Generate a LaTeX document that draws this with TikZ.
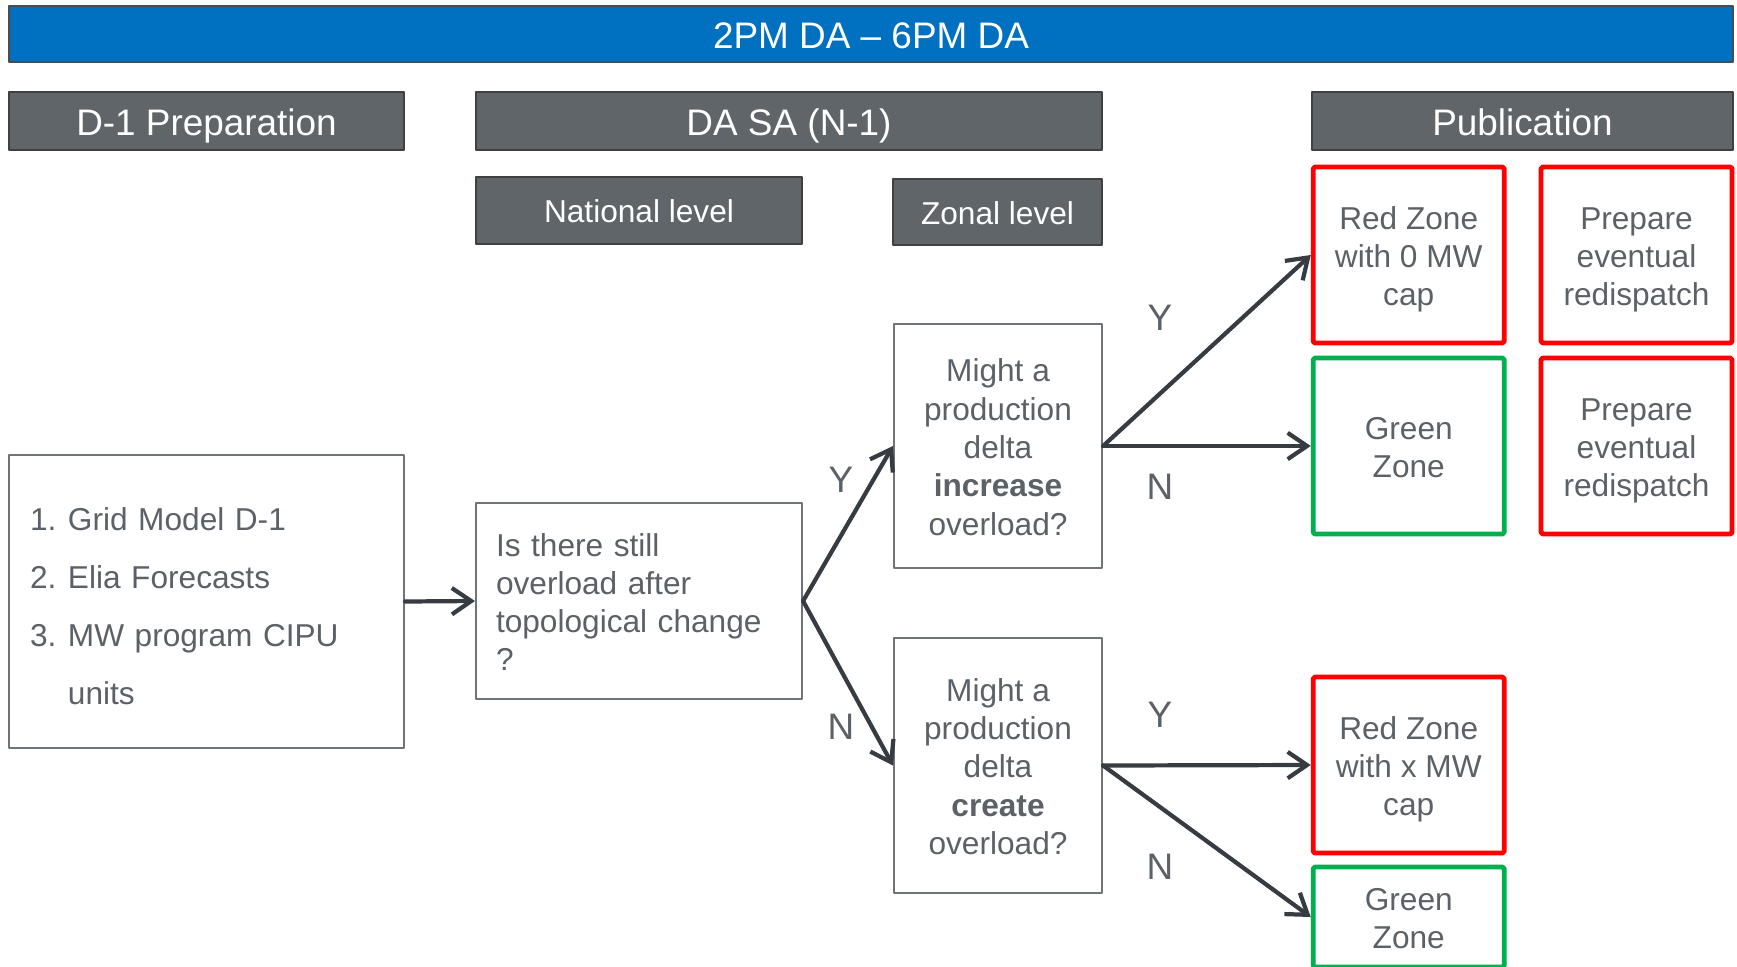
\documentclass[tikz,border=0pt]{standalone}
\usepackage{fontspec}
\setmainfont{Liberation Sans}
\usetikzlibrary{arrows.meta}
\definecolor{titleblue}{HTML}{0070C0}
\definecolor{headgray}{HTML}{5F6569}
\definecolor{textgray}{HTML}{5B6166}
\definecolor{boxgray}{HTML}{6E7478}
\definecolor{arrowgray}{HTML}{363C42}
\definecolor{zonered}{HTML}{FF0000}
\definecolor{zonegreen}{HTML}{00B050}
\newcommand{\topline}{\rule{0pt}{1em}}
\begin{document}
\begin{tikzpicture}[line cap=round,line join=round,>={Straight Barb[length=5.5pt,width=7.5pt]},x=0.1mm,y=-0.1mm,
    padded/.style={execute at begin node={\topline},execute at end node={\rule[-0.212em]{0pt}{0pt}}},
    header/.style={padded,draw=black!75,line width=0.5pt,fill=headgray,text=white,font=\fontsize{10.5}{12.6}\selectfont,inner sep=0pt},
    stepbox/.style={padded,draw=boxgray,line width=0.6pt,text=textgray,font=\fontsize{9}{10.9}\selectfont,align=center,inner sep=0pt},
    zone/.style={padded,line width=1.4pt,rounded corners=0.5pt,text=textgray,font=\fontsize{9}{10.9}\selectfont,align=center,inner sep=0pt,minimum width=19.1mm},
    flow/.style={->,draw=arrowgray,line width=1.2pt},
    answer/.style={text=textgray,font=\fontsize{10.5}{12.6}\selectfont}]
  \useasboundingbox (0,0) rectangle (1737,966);
  \node[header,fill=titleblue,draw=black!70,minimum width=172.4mm,minimum height=5.65mm] (title) at (871,34) {2PM DA \textendash{} 6PM DA};
  \node[header,minimum width=39.5mm,minimum height=5.8mm] (prep) at (206.5,121) {D-1 Preparation};
  \node[header,minimum width=62.6mm,minimum height=5.8mm] (dasa) at (789,121) {DA SA (N-1)};
  \node[header,minimum width=42.1mm,minimum height=5.8mm] (pub) at (1522.5,121) {Publication};
  \node[header,font=\fontsize{9}{10.9}\selectfont,minimum width=32.6mm,minimum height=6.7mm] (national) at (639,210.5) {National level};
  \node[header,font=\fontsize{9}{10.9}\selectfont,minimum width=20.9mm,minimum height=6.6mm] (zonal) at (997.5,212) {Zonal level};
  \node[stepbox,align=left,font=\fontsize{9}{16.5}\selectfont,text width=35.3mm,inner xsep=2.1mm,minimum height=29.3mm,
        execute at begin node={\rule{0pt}{11pt}}] (inputs) at (206.5,601.5)
    {\makebox[10.8pt][l]{1.}Grid Model D-1\\\makebox[10.8pt][l]{2.}Elia Forecasts\\\makebox[10.8pt][l]{3.}MW program CIPU\\\makebox[10.8pt][l]{}units};
  \node[stepbox,align=left,text width=28.6mm,inner xsep=2mm,minimum height=19.6mm] (question) at (639,601)
    {Is there still\\overload after\\topological change\\?};
  \node[stepbox,minimum width=20.8mm,minimum height=24.4mm] (increase) at (998,446)
    {\topline Might a\\production\\delta\\\textbf{increase}\\overload?};
  \node[stepbox,minimum width=20.8mm,minimum height=25.5mm] (create) at (998,765.5)
    {\topline Might a\\production\\delta\\\textbf{create}\\overload?};
  \node[zone,draw=zonered,minimum height=17.6mm] (redzero) at (1408.7,255) {\topline Red Zone\\with 0 MW\\cap};
  \node[zone,draw=zonered,minimum height=17.6mm] (prepone) at (1636.5,255) {\topline Prepare\\eventual\\redispatch};
  \node[zone,draw=zonegreen,minimum height=17.6mm] (greenone) at (1408.7,446) {\topline Green\\Zone};
  \node[zone,draw=zonered,minimum height=17.6mm] (preptwo) at (1636.5,446) {\topline Prepare\\eventual\\redispatch};
  \node[zone,draw=zonered,minimum height=17.6mm] (redx) at (1408.7,765) {\topline Red Zone\\with x MW\\cap};
  \node[zone,draw=zonegreen,minimum height=10mm] (greentwo) at (1408.7,917) {\topline Green\\Zone};
  \draw[flow] (inputs.east) -- (question.west);
  \draw[flow] (question.east) -- (increase.west);
  \draw[flow] (question.east) -- (create.west);
  \draw[flow] (increase.east) -- (redzero.west);
  \draw[flow] (increase.east) -- (greenone.west);
  \draw[flow] (create.east) -- (redx.west);
  \draw[flow] (create.east) -- (greentwo.west);
  \node[answer] (yq) at (841,480) {Y};
  \node[answer] (nq) at (841,727) {N};
  \node[answer] (yinc) at (1160,318) {Y};
  \node[answer] (ninc) at (1160,487) {N};
  \node[answer] (ycre) at (1160,715) {Y};
  \node[answer] (ncre) at (1160,867) {N};
\end{tikzpicture}
\end{document}
